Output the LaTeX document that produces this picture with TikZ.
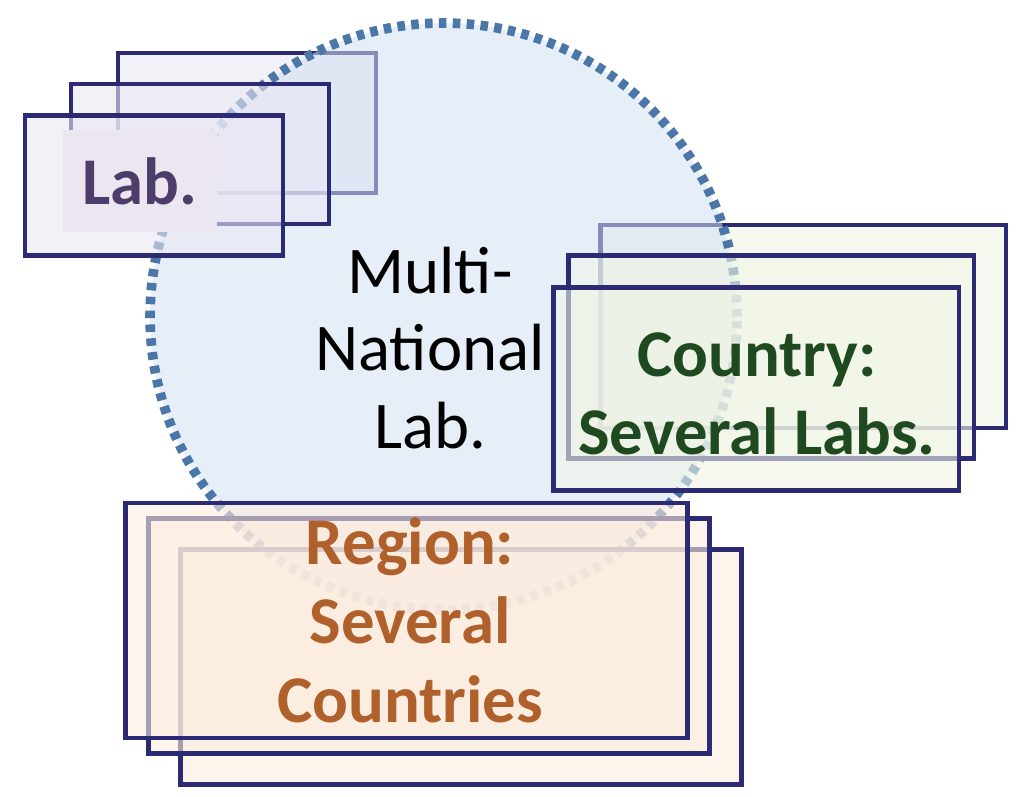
\documentclass[tikz,border=0pt]{standalone}
\usepackage{fontspec}
\setmainfont{Carlito}
\usepackage{tikz}
\usetikzlibrary{positioning}
\definecolor{framecol}{HTML}{2B2A72}
\definecolor{ringcol}{HTML}{4A76A8}
\definecolor{ringfill}{HTML}{D2E0F2}
\definecolor{labfill}{HTML}{EAE8F4}
\definecolor{labbox}{HTML}{EBE6EF}
\definecolor{labtext}{HTML}{4E3D6A}
\definecolor{ctryfill}{HTML}{F1F5E6}
\definecolor{ctrytext}{HTML}{1F4A1F}
\definecolor{regfill}{HTML}{FCECDF}
\definecolor{regtext}{HTML}{B0602A}

\begin{document}
\begin{tikzpicture}[x=0.02cm, y=-0.02cm,
    card/.style={draw=framecol, line width=2.8pt, inner sep=0pt, outer sep=0pt,
                 fill opacity=0.6, draw opacity=1},
    labcard/.style={card, fill=labfill, minimum width=5.16cm, minimum height=2.8cm},
    ctrycard/.style={card, fill=ctryfill, minimum width=8.12cm, minimum height=4.06cm},
    regcard/.style={card, fill=regfill, minimum width=11.24cm, minimum height=4.7cm},
    big/.style={font=\fontsize{38}{44}\selectfont, align=center},
    bigbold/.style={big, font=\fontsize{38}{44}\selectfont\bfseries}
]
    \useasboundingbox (0,0) rectangle (1024,797);

    % back sheets
    \node[labcard] (lab3) at (247,123) {};
    \node[ctrycard] (ctry3) at (803,326.5) {};

    % the multi-national ring
    \node[circle, minimum size=11.74cm, inner sep=0pt, fill=ringfill, fill opacity=0.55,
          draw=ringcol, draw opacity=1, line width=5.5pt,
          dash pattern=on 4.3pt off 3.6pt] (ring) at (443.5,316.5) {};

    \node[labcard] (lab2) at (200,154) {};
    \node[labcard] (lab1) at (154,185.5) {};
    \node[ctrycard] (ctry2) at (771,357) {};
    \node[ctrycard] (ctry1) at (756,389) {};
    \node[regcard] (reg3) at (461,667) {};
    \node[regcard] (reg2) at (429,636) {};
    \node[regcard] (reg1) at (406.5,620.5) {};

    % labels
    \node[big] (mnl) at (430,348) {Multi-\\National\\Lab.};
    \node[bigbold, text=labtext, fill=labbox,
          minimum width=3.1cm, minimum height=2.04cm] (labname) at (140,181) {Lab.};
    \node[bigbold, text=ctrytext] (ctryname) at (757,394) {Country:\\Several Labs.};
    \node[bigbold, font=\fontsize{38}{45}\selectfont\bfseries, text=regtext]
        (regname) at (410,620) {Region:\\Several\\Countries};
\end{tikzpicture}
\end{document}
